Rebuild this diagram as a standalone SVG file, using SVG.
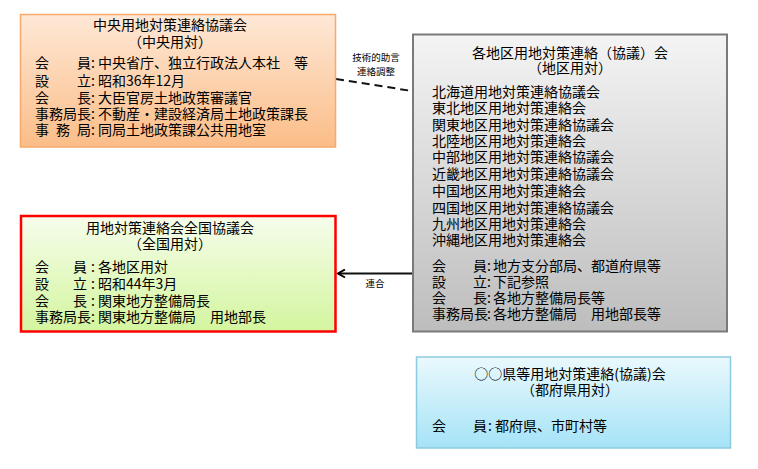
<svg xmlns="http://www.w3.org/2000/svg" width="758" height="469" viewBox="0 0 758 469">
<defs>
<linearGradient id="gOrange" x1="0" y1="0" x2="0" y2="1"><stop offset="0" stop-color="#fee8d6"/><stop offset="1" stop-color="#fbbd88"/></linearGradient>
<linearGradient id="gGreen" x1="0" y1="0" x2="0" y2="1"><stop offset="0" stop-color="#f6fdec"/><stop offset="1" stop-color="#d3f59e"/></linearGradient>
<linearGradient id="gGray" x1="0" y1="0" x2="0" y2="1"><stop offset="0" stop-color="#f4f4f4"/><stop offset="1" stop-color="#bdbdbd"/></linearGradient>
<linearGradient id="gBlue" x1="0" y1="0" x2="0" y2="1"><stop offset="0" stop-color="#eaf9fd"/><stop offset="1" stop-color="#a5e3f7"/></linearGradient>
<marker id="arrow" markerWidth="10" markerHeight="10" refX="8" refY="5" orient="auto" markerUnits="userSpaceOnUse">
<path d="M1,1 L8,5 L1,9" fill="none" stroke="#000" stroke-width="2"/>
</marker>
</defs>
<style>
text{font-family:"Noto Sans CJK JP","Noto Sans CJK SC",sans-serif;font-size:14px;fill:#000}
.c{text-anchor:middle}
.s{font-size:9.5px}
.conn{fill:none;stroke:#111;stroke-width:2}
</style>
<rect width="758" height="469" fill="#fff"/>

<g id="connectors">
<line class="conn" x1="336" y1="79" x2="412" y2="91" stroke-dasharray="8,5"/>
<text class="c s" x="376" y="61">技術的助言</text>
<text class="c s" x="376" y="75">連絡調整</text>
<line class="conn" x1="412" y1="273.5" x2="338" y2="273.5" marker-end="url(#arrow)"/>
<text class="c s" x="375" y="287">連合</text>
</g>

<g id="node-chuo">
<rect x="20.5" y="14.5" width="315" height="132.5" fill="url(#gOrange)" stroke="#f8a96c" stroke-width="1.5"/>
<text class="c" x="170" y="30">中央用地対策連絡協議会</text>
<text class="c" x="170" y="47">（中央用対）</text>
<text y="68"><tspan x="35">会</tspan><tspan x="77">員</tspan><tspan x="91">:</tspan><tspan x="98">中央省庁、独立行政法人本社　等</tspan></text>
<text y="86"><tspan x="35">設</tspan><tspan x="77">立</tspan><tspan x="91">:</tspan><tspan x="98">昭和36年12月</tspan></text>
<text y="103"><tspan x="35">会</tspan><tspan x="77">長</tspan><tspan x="91">:</tspan><tspan x="98">大臣官房土地政策審議官</tspan></text>
<text y="119"><tspan x="35">事務局長</tspan><tspan x="91">:</tspan><tspan x="98">不動産・建設経済局土地政策課長</tspan></text>
<text y="135"><tspan x="35">事</tspan><tspan x="56">務</tspan><tspan x="77">局</tspan><tspan x="91">:</tspan><tspan x="98">同局土地政策課公共用地室</tspan></text>
</g>

<g id="node-zenkoku">
<rect x="21" y="216" width="314.5" height="115.5" fill="url(#gGreen)" stroke="#ff0000" stroke-width="2.5"/>
<text class="c" x="170" y="233">用地対策連絡会全国協議会</text>
<text class="c" x="170" y="249">（全国用対）</text>
<text y="272"><tspan x="35">会</tspan><tspan x="73">員</tspan><tspan x="91">:</tspan><tspan x="98">各地区用対</tspan></text>
<text y="289"><tspan x="35">設</tspan><tspan x="73">立</tspan><tspan x="91">:</tspan><tspan x="98">昭和44年3月</tspan></text>
<text y="306"><tspan x="35">会</tspan><tspan x="73">長</tspan><tspan x="91">:</tspan><tspan x="98">関東地方整備局長</tspan></text>
<text y="322"><tspan x="35">事務局長</tspan><tspan x="91">:</tspan><tspan x="98">関東地方整備局　用地部長</tspan></text>
</g>

<g id="node-chiku">
<rect x="413" y="34.5" width="314" height="297" fill="url(#gGray)" stroke="#7a7a7a" stroke-width="2"/>
<text class="c" x="570" y="58">各地区用地対策連絡（協議）会</text>
<text class="c" x="570" y="73">（地区用対）</text>
<text x="432" y="97">北海道用地対策連絡協議会</text>
<text x="432" y="113">東北地区用地対策連絡会</text>
<text x="432" y="130">関東地区用地対策連絡協議会</text>
<text x="432" y="146">北陸地区用地対策連絡会</text>
<text x="432" y="162">中部地区用地対策連絡協議会</text>
<text x="432" y="179">近畿地区用地対策連絡協議会</text>
<text x="432" y="196">中国地区用地対策連絡会</text>
<text x="432" y="213">四国地区用地対策連絡協議会</text>
<text x="432" y="229">九州地区用地対策連絡会</text>
<text x="432" y="245">沖縄地区用地対策連絡会</text>
<text y="271"><tspan x="432">会</tspan><tspan x="473">員</tspan><tspan x="487">:</tspan><tspan x="493">地方支分部局、都道府県等</tspan></text>
<text y="287"><tspan x="432">設</tspan><tspan x="473">立</tspan><tspan x="487">:</tspan><tspan x="493">下記参照</tspan></text>
<text y="303"><tspan x="432">会</tspan><tspan x="473">長</tspan><tspan x="487">:</tspan><tspan x="493">各地方整備局長等</tspan></text>
<text y="319"><tspan x="432">事務局長</tspan><tspan x="487">:</tspan><tspan x="493">各地方整備局　用地部長等</tspan></text>
</g>

<g id="node-ken">
<rect x="416.5" y="357" width="314" height="91" fill="url(#gBlue)" stroke="#8ccbdf" stroke-width="1.5"/>
<text class="c" x="570" y="379">○○県等用地対策連絡(協議)会</text>
<text class="c" x="570" y="395">（都府県用対）</text>
<text y="431"><tspan x="432">会</tspan><tspan x="473">員</tspan><tspan x="488">:</tspan><tspan x="495">都府県、市町村等</tspan></text>
</g>
</svg>
